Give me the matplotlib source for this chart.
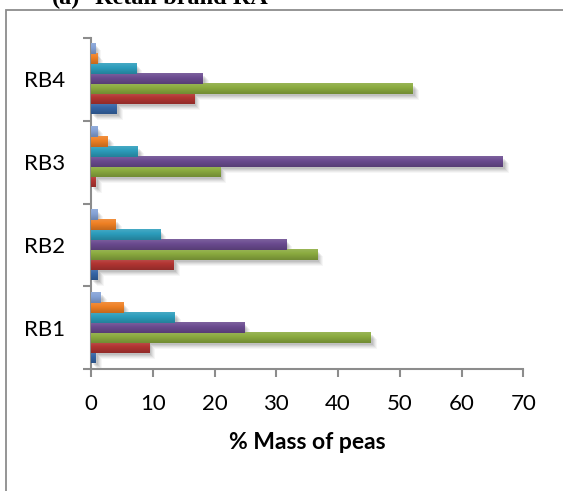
import numpy as np
import matplotlib
matplotlib.use("Agg")
import matplotlib.pyplot as plt
from matplotlib.patches import Rectangle
from matplotlib.colors import to_rgb

plt.rcParams["font.family"] = ["Lato", "DejaVu Sans"]

# % mass of peas per retail brand, one list per fraction (bottom bar first)
brands = ["RB1", "RB2", "RB3", "RB4"]
frac_1 = [0.8, 1.1, 0.0, 4.2]
frac_2 = [9.4, 13.4, 0.8, 16.7]
frac_3 = [45.3, 36.6, 20.9, 52.1]
frac_4 = [24.8, 31.6, 66.7, 18.1]
frac_5 = [13.6, 11.2, 7.6, 7.3]
frac_6 = [5.2, 4.0, 2.75, 1.0]
frac_7 = [1.6, 1.0, 1.0, 0.65]

series = [frac_1, frac_2, frac_3, frac_4, frac_5, frac_6, frac_7]
colors = ["#3565a6", "#b23532", "#8bab3f", "#6b4b90", "#2c9dbc", "#ef8024", "#84a2d6"]
grey = "#8c8c8c"

W, H = 563, 491
fig = plt.figure(figsize=(W / 100, H / 100), dpi=100)
ax = fig.add_axes([91 / W, 1 - 369 / H, 432.3 / W, 331 / H])

xmax = 70
px_x = xmax / 432.3     # data units per pixel
px_y = 4 / 331
n = len(series)
bar_h = 0.121
y = np.arange(len(brands))


def shade(c, f):
    r = np.array(to_rgb(c))
    return r + (1 - r) * f if f > 0 else r * (1 + f)


for i, (vals, c) in enumerate(zip(series, colors)):
    pos = y + (i - (n - 1) / 2) * bar_h
    vals = np.asarray(vals)
    # soft drop shadow, layered to look blurred
    for k, a in [(6, 0.035), (5, 0.045), (4, 0.055), (3, 0.065), (2, 0.07)]:
        ax.barh(pos - k * px_y, np.where(vals > 0, vals, 0), height=bar_h,
                left=k * px_x, color="black", alpha=a, lw=0, zorder=1)
    bars = ax.barh(pos, vals, height=bar_h, color=c, lw=0, zorder=2)
    # vertical gradient, lighter top, darker bottom
    grad = np.array([shade(c, f) for f in np.linspace(0.12, -0.18, 16)])
    grad = np.clip(grad, 0, 1)[:, None, :]
    for b in bars:
        w = b.get_width()
        if w <= 0:
            continue
        y0 = b.get_y()
        ax.imshow(grad, extent=(0, w, y0, y0 + bar_h), aspect="auto",
                  interpolation="bilinear", zorder=3)

ax.set_xlim(0, xmax)
ax.set_ylim(-0.5, len(brands) - 0.5)

ax.set_yticks(y, brands)
ax.set_yticks(np.arange(-0.5, len(brands), 1), minor=True)
ax.tick_params(axis="y", which="major", length=0, pad=18.5, labelsize=16)
ax.tick_params(axis="y", which="minor", length=5.8, width=1.5, color=grey)
ax.set_xticks(range(0, xmax + 1, 10))
ax.tick_params(axis="x", length=5.8, width=1.5, color=grey, pad=12, labelsize=16)

for s in ["top", "right"]:
    ax.spines[s].set_visible(False)
for s in ["left", "bottom"]:
    ax.spines[s].set_color(grey)
    ax.spines[s].set_linewidth(1.5)

ax.set_xlabel("% Mass of peas", fontsize=16.5, fontweight="bold", labelpad=13)

# chart frame and caption above it
fig.add_artist(Rectangle((6 / W, -0.1), 1.2, 1.1 - 10 / H, transform=fig.transFigure,
                         fill=False, ec=grey, lw=1.3))
fig.text(52 / W, 1 - 4 / H, "(a)", family="Liberation Serif", fontweight="bold",
         fontsize=17.5, va="baseline")
fig.text(95 / W, 1 - 4 / H, "Retail brand RA", family="Liberation Serif",
         fontweight="bold", fontsize=17.5, va="baseline")

fig.savefig("out.png", dpi=100)
